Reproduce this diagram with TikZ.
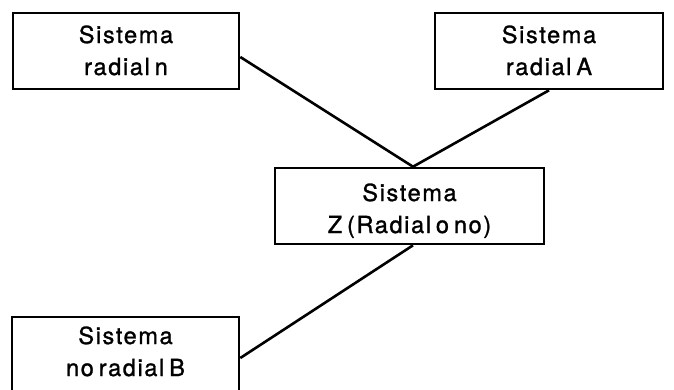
\documentclass[tikz,border=0pt]{standalone}
\usepackage{fontspec}
\setmainfont{TeX Gyre Heros}[LetterSpace=7,WordSpace=0.6,FakeBold=1.2]
\begin{document}
\begin{tikzpicture}[x=1pt,y=-1pt,
  sysbox/.style={draw, line width=2.6pt, inner sep=0pt, minimum height=76pt,
    align=center, font=\fontsize{23.5}{32}\selectfont,
    text height=48pt, text depth=0pt},
  link/.style={line width=2.6pt}]
  \useasboundingbox (0,0) rectangle (674,389);
  \clip (0,0) rectangle (674,389);

  % the four subsystems
  \node[sysbox, minimum width=226pt] (n) at (126,51)    {Sistema\\radial n};
  \node[sysbox, minimum width=228pt] (a) at (549,51)    {Sistema\\radial A};
  \node[sysbox, minimum width=269pt, text height=54pt] (z) at (409.5,206) {Sistema\\Z (Radial o no)};
  \node[sysbox, minimum width=227pt, text height=42pt] (b) at (125.5,355) {Sistema\\no radial B};

  % connections to the central system
  \draw[link] ([yshift=-6pt]n.east) -- ([xshift=3.5pt]z.north);
  \draw[link] (a.south) -- ([xshift=3.5pt]z.north);
  \draw[link] ([xshift=3.5pt]z.south) -- ([yshift=-3pt]b.east);
\end{tikzpicture}
\end{document}
